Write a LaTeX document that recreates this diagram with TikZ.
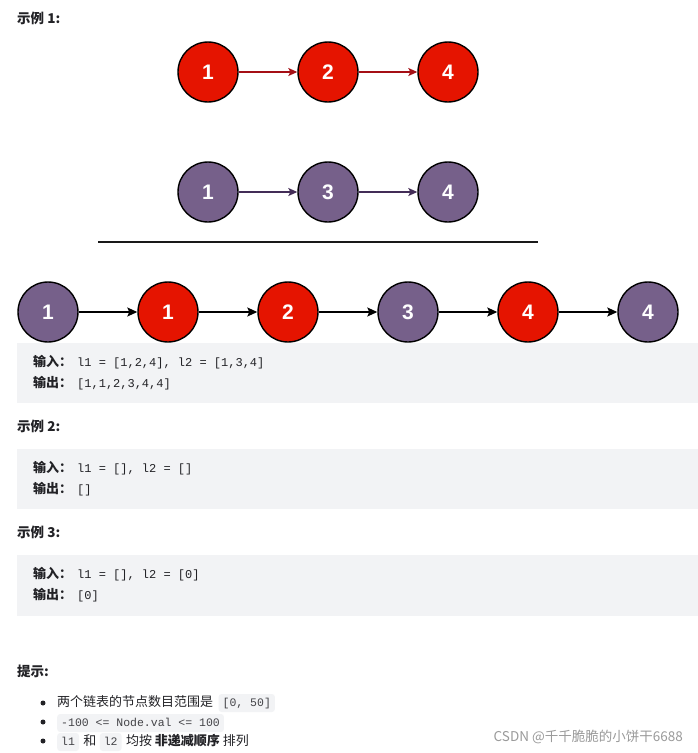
\documentclass[tikz,border=0pt]{standalone}
\usepackage{fontspec}
\setmainfont{Noto Sans CJK SC}
\setmonofont{Liberation Mono}
\newfontfamily\numfont{Liberation Sans}
\usetikzlibrary{arrows.meta}
\definecolor{nred}{HTML}{E51400}
\definecolor{nredline}{HTML}{A50F15}
\definecolor{npurple}{HTML}{76608A}
\definecolor{npurpleline}{HTML}{432D57}
\definecolor{codebg}{HTML}{F2F3F5}
\definecolor{txtc}{HTML}{222226}
\definecolor{wmark}{HTML}{9A9A9A}
\tikzset{
  lnode/.style={circle, draw=black, line width=1.4pt, minimum size=60pt, inner sep=0pt,
    text=white, font=\numfont\bfseries\fontsize{21}{24}\selectfont},
  rednode/.style={lnode, fill=nred},
  purnode/.style={lnode, fill=npurple},
  redarrow/.style={draw=nredline, line width=1.2pt, -{Stealth[length=9pt,width=8pt,inset=2pt]}},
  purarrow/.style={draw=npurpleline, line width=1.2pt, -{Stealth[length=9pt,width=8pt,inset=2pt]}},
  blkarrow/.style={draw=black, line width=1.4pt, -{Stealth[length=10pt,width=9pt,inset=2pt]}},
  heading/.style={anchor=base west, inner sep=0pt, text=txtc, font=\bfseries\fontsize{13.5}{16}\selectfont},
  boxline/.style={anchor=base west, inner sep=0pt, text=txtc, font=\fontsize{13}{16}\selectfont},
  grayblock/.style={fill=codebg, draw=none},
  btxt/.style={anchor=base west, inner sep=0pt, text=txtc, font=\fontsize{13}{16}\selectfont},
  incode/.style={anchor=base west, fill=codebg, rounded corners=3pt, inner xsep=4pt, inner ysep=3pt,
    text height=9pt, text depth=3pt, text=txtc!85, font=\ttfamily\fontsize{11.5}{14}\selectfont},
  bdot/.style={circle, fill=txtc, inner sep=0pt, minimum size=5pt},
}
\newcommand{\cde}[1]{\hspace{5pt}{\ttfamily\fontsize{12}{14}\selectfont #1}}
\begin{document}
\begin{tikzpicture}[x=1pt,y=-1pt]
\useasboundingbox[fill=white] (0,0) rectangle (698,753);

% headings
\node[heading] (h1) at (17,23) {示例 1:};

% list 1
\node[rednode] (a1) at (208,72) {1};
\node[rednode] (a2) at (328,72) {2};
\node[rednode] (a3) at (448,72) {4};
\draw[redarrow] (a1) -- (a2);
\draw[redarrow] (a2) -- (a3);

% list 2
\node[purnode] (b1) at (208,192) {1};
\node[purnode] (b2) at (328,192) {3};
\node[purnode] (b3) at (448,192) {4};
\draw[purarrow] (b1) -- (b2);
\draw[purarrow] (b2) -- (b3);

% separator
\coordinate (sepL) at (98,242);
\coordinate (sepR) at (538,242);
\draw[line width=2pt, black!90] (sepL) -- (sepR);

% gray blocks
\fill[grayblock] (17,343) rectangle (698,403);
\fill[grayblock] (17,449) rectangle (698,509);
\fill[grayblock] (17,555) rectangle (698,616);

% merged list
\node[purnode] (c1) at (48,312) {1};
\node[rednode] (c2) at (168,312) {1};
\node[rednode] (c3) at (288,312) {2};
\node[purnode] (c4) at (408,312) {3};
\node[rednode] (c5) at (528,312) {4};
\node[purnode] (c6) at (648,312) {4};
\draw[blkarrow] (c1) -- (c2);
\draw[blkarrow] (c2) -- (c3);
\draw[blkarrow] (c3) -- (c4);
\draw[blkarrow] (c4) -- (c5);
\draw[blkarrow] (c5) -- (c6);

% example 1 block
\node[boxline] (e1i) at (33,366) {\textbf{输入：}\cde{l1 = [1,2,4], l2 = [1,3,4]}};
\node[boxline] (e1o) at (33,387) {\textbf{输出：}\cde{[1,1,2,3,4,4]}};

% example 2
\node[heading] (h2) at (17,431) {示例 2:};
\node[boxline] (e2i) at (33,472) {\textbf{输入：}\cde{l1 = [], l2 = []}};
\node[boxline] (e2o) at (33,493) {\textbf{输出：}\cde{[]}};

% example 3
\node[heading] (h3) at (17,537) {示例 3:};
\node[boxline] (e3i) at (33,578) {\textbf{输入：}\cde{l1 = [], l2 = [0]}};
\node[boxline] (e3o) at (33,599) {\textbf{输出：}\cde{[0]}};

% hints
\node[heading] (h4) at (17,676) {提示:};

\node[bdot] (d1) at (43,703) {};
\node[bdot] (d2) at (43,722) {};
\node[bdot] (d3) at (43,741) {};

\node[btxt] (t1a) at (57,706) {两个链表的节点数目范围是};
\node[incode] (t1b) at ([xshift=5pt]t1a.base east) {[0, 50]};

\node[incode] (t2a) at (57,726) {-100 <= Node.val <= 100};

\node[incode] (t3a) at (57,745) {l1};
\node[btxt] (t3b) at ([xshift=4pt]t3a.base east) {和};
\node[incode] (t3c) at ([xshift=3pt]t3b.base east) {l2};
\node[btxt] (t3d) at ([xshift=4pt]t3c.base east) {均按 \textbf{非递减顺序} 排列};

% watermark
\node[anchor=base east, inner sep=0pt, text=wmark, font=\fontsize{13.5}{16}\selectfont] (wm) at (683,741) {CSDN @千千脆脆的小饼干6688};
\end{tikzpicture}
\end{document}
